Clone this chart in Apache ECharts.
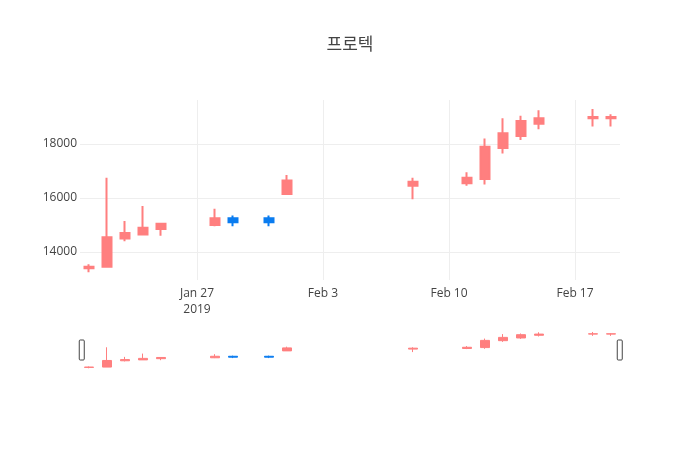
<!DOCTYPE html>
<html>
<head>
<meta charset="utf-8">
<script src="https://cdn.jsdelivr.net/npm/echarts@6/dist/echarts.min.js"></script>
<style>
  html, body { margin: 0; padding: 0; background: #fff; }
  #chart { width: 700px; height: 450px; }
</style>
</head>
<body>
<div id="chart"></div>
<script>
// 일별 시세 (프로텍)
const dates  = ['2019-01-21', '2019-01-22', '2019-01-23', '2019-01-24', '2019-01-25',
                '2019-01-28', '2019-01-29', '2019-01-31', '2019-02-01', '2019-02-08',
                '2019-02-11', '2019-02-12', '2019-02-13', '2019-02-14', '2019-02-15',
                '2019-02-18', '2019-02-19'];
const opens  = [13400, 13450, 14500, 14650, 14850, 15000, 15250, 15250, 16150, 16450,
                16550, 16700, 17850, 18300, 18750, 18950, 18950];
const closes = [13450, 14550, 14700, 14900, 15050, 15250, 15100, 15100, 16650, 16600,
                16750, 17900, 18400, 18850, 18950, 19000, 19000];
const lows   = [13250, 13450, 14400, 14650, 14600, 14950, 14950, 14950, 16150, 15950,
                16450, 16500, 17650, 18150, 18550, 18650, 18650];
const highs  = [13550, 16750, 15150, 15700, 15050, 15600, 15350, 15350, 16850, 16750,
                16950, 18200, 18950, 19050, 19250, 19300, 19100];

const yTicks = [14000, 16000, 18000];
const xTicks = ['2019-01-27', '2019-02-03', '2019-02-10', '2019-02-17'];
const xRange = ['2019-01-20', '2019-02-19']; // 양쪽 반나절 여백
const yRange = [12963, 19630];

const monthNames = ['Jan', 'Feb', 'Mar', 'Apr', 'May', 'Jun', 'Jul', 'Aug', 'Sep', 'Oct', 'Nov', 'Dec'];
const HALF_DAY = 12 * 3600 * 1000;

function toTime(s) {
  const p = s.split('-').map(Number);
  return new Date(p[0], p[1] - 1, p[2]).getTime();
}

const candleData = dates.map((d, i) => [toTime(d), opens[i], closes[i], lows[i], highs[i]]);
const xMin = toTime(xRange[0]) + HALF_DAY;
const xMax = toTime(xRange[1]) + HALF_DAY;
const xTickTimes = xTicks.map(toTime);

const upColor = '#ff7f7f';
const downColor = '#0a7cf0';
const fontFamily = '"Open Sans", "Noto Sans CJK KR", sans-serif';

const chart = echarts.init(document.getElementById('chart'));

chart.setOption({
  backgroundColor: '#fff',
  animation: false,
  title: {
    text: '프로텍',
    left: 'center',
    top: 32,
    textStyle: { fontFamily: fontFamily, fontSize: 17, fontWeight: 'normal', color: '#444' }
  },
  grid: [
    { left: 80, right: 80, top: 100, height: 180 },
    { left: 80, right: 80, top: 330, height: 40 }
  ],
  xAxis: [
    {
      // 날짜는 타임스탬프 값 축으로 처리
      type: 'value',
      gridIndex: 0,
      min: xMin,
      max: xMax,
      axisLine: { show: false },
      axisTick: { show: false, customValues: xTickTimes },
      splitLine: { show: true, lineStyle: { color: '#eee', width: 1 } },
      axisLabel: {
        customValues: xTickTimes,
        color: '#444',
        fontSize: 12,
        fontFamily: fontFamily,
        margin: 6,
        lineHeight: 16,
        formatter: function (v) {
          const d = new Date(v);
          let s = monthNames[d.getMonth()] + ' ' + d.getDate();
          if (v === xTickTimes[0]) s += '\n' + d.getFullYear();
          return s;
        }
      }
    },
    {
      type: 'value',
      gridIndex: 1,
      min: xMin,
      max: xMax,
      show: false
    }
  ],
  yAxis: [
    {
      type: 'value',
      gridIndex: 0,
      min: yRange[0],
      max: yRange[1],
      axisLine: { show: false },
      axisTick: { show: false, customValues: yTicks },
      splitLine: { show: true, lineStyle: { color: '#eee', width: 1 } },
      axisLabel: {
        customValues: yTicks,
        color: '#444',
        fontSize: 12,
        fontFamily: fontFamily,
        margin: 3,
        formatter: function (v) { return String(v); }
      }
    },
    {
      type: 'value',
      gridIndex: 1,
      min: yRange[0],
      max: yRange[1],
      show: false
    }
  ],
  dataZoom: [
    {
      type: 'slider',
      xAxisIndex: 0,
      filterMode: 'none',
      start: 0,
      end: 100,
      left: 80,
      right: 80,
      top: 330,
      height: 40,
      backgroundColor: 'transparent',
      borderColor: 'transparent',
      fillerColor: 'transparent',
      showDetail: false,
      showDataShadow: false,
      brushSelect: false,
      moveHandleSize: 0,
      dataBackground: {
        lineStyle: { opacity: 0 },
        areaStyle: { opacity: 0 }
      },
      handleIcon: 'path://M1,0H4A1,1,0,0,1,5,1V19A1,1,0,0,1,4,20H1A1,1,0,0,1,0,19V1A1,1,0,0,1,1,0Z',
      handleSize: '50%',
      handleStyle: { color: '#fff', borderColor: '#444', borderWidth: 1 }
    }
  ],
  series: [
    {
      type: 'candlestick',
      xAxisIndex: 0,
      yAxisIndex: 0,
      encode: { x: 0, y: [1, 2, 3, 4] },
      barWidth: 9,
      itemStyle: {
        color: upColor,
        color0: downColor,
        borderColor: upColor,
        borderColor0: downColor,
        borderWidth: 2
      },
      data: candleData
    },
    {
      type: 'candlestick',
      xAxisIndex: 1,
      yAxisIndex: 1,
      encode: { x: 0, y: [1, 2, 3, 4] },
      barWidth: 9,
      silent: true,
      itemStyle: {
        color: upColor,
        color0: downColor,
        borderColor: upColor,
        borderColor0: downColor,
        borderWidth: 1
      },
      data: candleData
    }
  ]
});
</script>
</body>
</html>
